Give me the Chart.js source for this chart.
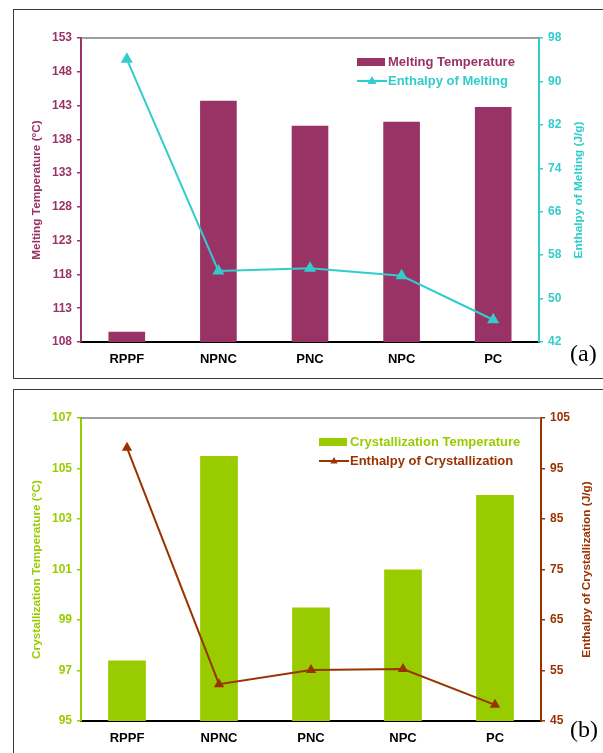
<!DOCTYPE html>
<html>
<head>
<meta charset="utf-8">
<script src="https://cdn.jsdelivr.net/npm/chart.js@4/dist/chart.umd.min.js"></script>
<style>
  body { margin: 0; background: #fff; width: 603px; height: 753px; overflow: hidden; position: relative; }
  .box { position: absolute; border: 1.5px solid #3a3a3a; box-sizing: border-box; }
  canvas { position: absolute; }
</style>
</head>
<body>
<div class="box" style="left:13px; top:9px; width:600px; height:370px;"></div>
<div class="box" style="left:13px; top:389px; width:600px; height:380px;"></div>
<canvas id="meltChart" width="588" height="367" style="left:14px; top:10px;"></canvas>
<canvas id="crystChart" width="588" height="363" style="left:14px; top:390px;"></canvas>
<script>
// Data
const categories = ['RPPF', 'NPNC', 'PNC', 'NPC', 'PC'];

const meltTemp = [109.5, 143.7, 140.0, 140.6, 142.8];
const meltEnthalpy = [94.1, 55.1, 55.6, 54.2, 46.1];
const crystTemp = [97.4, 105.5, 99.5, 101.0, 103.95];
const crystEnthalpy = [99.1, 52.3, 55.1, 55.3, 48.2];

// axis ranges: [min, max, step]
const meltTempAxis = [108, 153, 5];
const meltEnthAxis = [42, 98, 8];
const crystTempAxis = [95, 107, 2];
const crystEnthAxis = [45, 105, 10];

const FONT = "'Liberation Sans', Arial, sans-serif";
const TITLE_FONT = 'bold 11.8px ' + FONT;

// Plot top border, in-plot legend, right axis title (reads upward) and the (a)/(b) tag
const panelDecor = {
    id: 'panelDecor',
    afterDraw(chart, args, opts) {
        const { ctx, chartArea: a } = chart;
        ctx.save();
        ctx.strokeStyle = '#7f7f7f';
        ctx.lineWidth = 1.5;
        ctx.beginPath();
        ctx.moveTo(a.left, a.top);
        ctx.lineTo(a.right, a.top);
        ctx.stroke();

        const bar = chart.data.datasets.find(d => d.type === 'bar');
        const line = chart.data.datasets.find(d => d.type === 'line');

        // legend
        const lx = opts.legendX, ly = opts.legendY;
        ctx.font = 'bold 13px ' + FONT;
        ctx.textBaseline = 'middle';
        ctx.textAlign = 'left';
        ctx.fillStyle = bar.backgroundColor;
        ctx.fillRect(lx, ly - 4, 28, 8);
        ctx.fillText(bar.label, lx + 31, ly);

        const y2 = ly + 19;
        ctx.strokeStyle = line.borderColor;
        ctx.lineWidth = 2;
        ctx.beginPath();
        ctx.moveTo(lx, y2);
        ctx.lineTo(lx + 30, y2);
        ctx.stroke();
        const r = line.pointRadius;
        ctx.fillStyle = line.borderColor;
        ctx.beginPath();
        ctx.moveTo(lx + 15, y2 - r);
        ctx.lineTo(lx + 15 + r * 0.9, y2 + r * 0.6);
        ctx.lineTo(lx + 15 - r * 0.9, y2 + r * 0.6);
        ctx.closePath();
        ctx.fill();
        ctx.fillText(line.label, lx + 31, y2);

        // right axis title, rotated like the left one
        ctx.save();
        ctx.translate(opts.rightTitleX, (a.top + a.bottom) / 2);
        ctx.rotate(-Math.PI / 2);
        ctx.font = TITLE_FONT;
        ctx.textAlign = 'center';
        ctx.fillStyle = line.borderColor;
        ctx.fillText(opts.rightTitle, 0, 0);
        ctx.restore();

        // panel tag
        ctx.fillStyle = '#000';
        ctx.textAlign = 'left';
        ctx.font = '24px "Liberation Serif", "Times New Roman", serif';
        ctx.fillText(opts.tag, opts.tagX, opts.tagY);
        ctx.restore();
    }
};

function yAxis(position, range, color, title, width) {
    return {
        type: 'linear',
        position: position,
        min: range[0],
        max: range[1],
        afterFit: s => { s.width = width; },
        ticks: {
            stepSize: range[2],
            color: color,
            padding: 5,
            font: { family: FONT, size: 12, weight: 'bold' }
        },
        grid: { drawOnChartArea: false, drawTicks: true, tickLength: 4, color: color, lineWidth: 1.5 },
        border: { color: color, width: 2 },
        title: {
            display: !!title,
            text: title || '',
            color: color,
            padding: { top: 16, bottom: 0 },
            font: { family: FONT, size: 11.8, weight: 'bold' }
        }
    };
}

function buildChart(id, c) {
    new Chart(document.getElementById(id), {
        data: {
            labels: categories,
            datasets: [
                {
                    type: 'line',
                    label: c.lineLabel,
                    data: c.lineData,
                    yAxisID: 'y2',
                    borderColor: c.lineColor,
                    backgroundColor: c.lineColor,
                    borderWidth: 2,
                    pointStyle: 'triangle',
                    pointRadius: c.pointRadius,
                    pointBackgroundColor: c.lineColor,
                    pointBorderColor: c.lineColor,
                    order: 0
                },
                {
                    type: 'bar',
                    label: c.barLabel,
                    data: c.barData,
                    yAxisID: 'y',
                    backgroundColor: c.barColor,
                    categoryPercentage: 1,
                    barPercentage: c.barPct,
                    order: 1
                }
            ]
        },
        options: {
            responsive: false,
            animation: false,
            devicePixelRatio: 1,
            layout: { padding: { top: 28, left: 0, right: 0, bottom: 0 } },
            plugins: {
                legend: { display: false },
                tooltip: { enabled: false },
                panelDecor: Object.assign({ rightTitle: c.rightTitle }, c.decor)
            },
            scales: {
                x: {
                    afterFit: s => { s.height = c.xHeight; },
                    grid: { display: false, drawTicks: false },
                    border: { color: '#000', width: 2 },
                    ticks: { color: '#000', padding: 10, font: { family: FONT, size: 13, weight: 'bold' } }
                },
                y: yAxis('left', c.leftRange, c.barColor, c.leftTitle, 67),
                y2: yAxis('right', c.rightRange, c.lineColor, null, c.rightWidth)
            }
        },
        plugins: [panelDecor]
    });
}

buildChart('meltChart', {
    barLabel: 'Melting Temperature',
    barData: meltTemp,
    barColor: '#993366',
    lineLabel: 'Enthalpy of Melting',
    lineData: meltEnthalpy,
    lineColor: '#33cccc',
    pointRadius: 5,
    barPct: 0.4,
    leftRange: meltTempAxis,
    rightRange: meltEnthAxis,
    leftTitle: 'Melting Temperature (°C)',
    rightTitle: 'Enthalpy of Melting (J/g)',
    rightWidth: 63,
    xHeight: 35,
    decor: { legendX: 343, legendY: 52, rightTitleX: 565, tag: '(a)', tagX: 556, tagY: 345 }
});

buildChart('crystChart', {
    barLabel: 'Crystallization Temperature',
    barData: crystTemp,
    barColor: '#99cc00',
    lineLabel: 'Enthalpy of Crystallization',
    lineData: crystEnthalpy,
    lineColor: '#993300',
    pointRadius: 4,
    barPct: 0.41,
    leftRange: crystTempAxis,
    rightRange: crystEnthAxis,
    leftTitle: 'Crystallization Temperature (°C)',
    rightTitle: 'Enthalpy of Crystallization (J/g)',
    rightWidth: 61,
    xHeight: 32,
    decor: { legendX: 305, legendY: 52, rightTitleX: 573, tag: '(b)', tagX: 556, tagY: 341 }
});
</script>
</body>
</html>
